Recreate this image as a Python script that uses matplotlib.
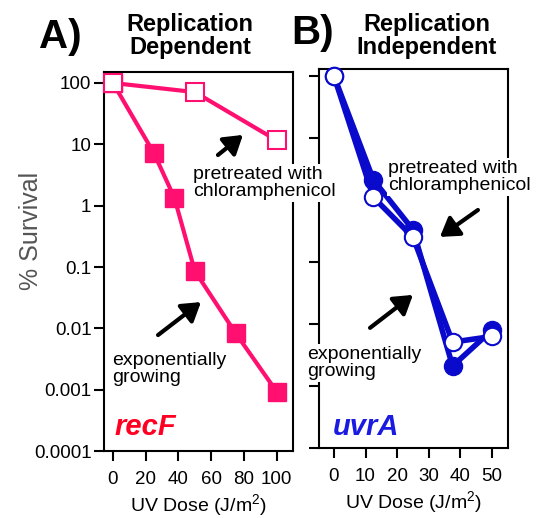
"""
UV survival of recF and uvrA mutants, replication dependent vs independent repair
"""

import matplotlib
matplotlib.use('Agg')
import matplotlib.pyplot as plt

plt.rcParams['font.family'] = ['Liberation Sans', 'DejaVu Sans']
plt.rcParams['mathtext.fontset'] = 'custom'
plt.rcParams['mathtext.rm'] = 'Liberation Sans'

# recF (panel A)
recf_dose_exp = [0, 25, 37.5, 50, 75, 100]
recf_surv_exp = [100, 7.2, 1.35, 0.086, 0.0083, 0.00093]
recf_dose_cam = [0, 50, 100]
recf_surv_cam = [100, 71, 11.6]

# uvrA (panel B)
uvra_dose = [0, 12.5, 25, 37.5, 50]
uvra_surv_exp = [100, 2.1, 0.33, 0.0021, 0.0080]
uvra_surv_cam = [100, 1.1, 0.25, 0.0051, 0.0063]

yticks = [100, 10, 1, 0.1, 0.01, 0.001, 0.0001]
ylabels = ['100', '10', '1', '0.1', '0.01', '0.001', '0.0001']
xticks_a = [0, 20, 40, 60, 80, 100]
xticks_b = [0, 10, 20, 30, 40, 50]

pink = '#ff1070'
blue = '#0a0acc'

fig = plt.figure(figsize=(5.43, 5.18), dpi=100)
axA = fig.add_axes([0.1915, 0.1293, 0.3481, 0.7317], zorder=2)
axB = fig.add_axes([0.5875, 0.1351, 0.3480, 0.7317], zorder=1)


def style_axes(ax):
    ax.set_yscale('log')
    ax.minorticks_off()
    ax.set_yticks(yticks)
    for s in ax.spines.values():
        s.set_linewidth(1.5)
    ax.tick_params(direction='out', length=7.5, width=1.5, labelsize=13.5)
    ax.tick_params(axis='y', pad=1.5)
    ax.tick_params(axis='x', pad=7)
    ax.set_xlabel('UV Dose (J/m$^{\\mathregular{2}}$)', fontsize=14, labelpad=3)


# Panel A
style_axes(axA)
axA.plot(recf_dose_exp, recf_surv_exp, color=pink, lw=3, marker='s', ms=13.5,
         clip_on=False, zorder=3)
axA.plot(recf_dose_cam, recf_surv_cam, color=pink, lw=3, marker='s', ms=13,
         mfc='white', mec=pink, mew=1.5, clip_on=False, zorder=4)
axA.set_xlim(-5.5, 110)
axA.set_ylim(0.0001, 151)
axA.set_xticks(xticks_a)
axA.set_yticklabels(ylabels)
axA.set_ylabel('% Survival', fontsize=18, color='#555555')
axA.yaxis.set_label_coords(-0.323, 0.58)

txt_box = dict(fc='white', ec='none', pad=1)
arrow = dict(arrowstyle='-|>,head_length=0.55,head_width=0.35', lw=3,
             color='black', mutation_scale=20, shrinkA=0, shrinkB=0)

axA.text(0.471, 0.707, 'pretreated with\nchloramphenicol', transform=axA.transAxes,
         fontsize=14, ha='left', va='center', linespacing=1.05, bbox=txt_box,
         zorder=10, clip_on=False)
axA.annotate('', xy=(0.735, 0.834), xytext=(0.603, 0.781),
             xycoords='axes fraction', arrowprops=arrow)
axA.text(0.042, 0.216, 'exponentially\ngrowing', transform=axA.transAxes,
         fontsize=14, ha='left', va='center', linespacing=1.05)
axA.annotate('', xy=(0.513, 0.393), xytext=(0.286, 0.306),
             xycoords='axes fraction', arrowprops=arrow)
axA.text(0.058, 0.063, 'recF', transform=axA.transAxes, fontsize=21,
         fontweight='bold', fontstyle='italic', color='#ff0022',
         ha='left', va='center')

# Panel B
style_axes(axB)
axB.plot(uvra_dose, uvra_surv_exp, color=blue, lw=4, marker='o', ms=13,
         clip_on=False, zorder=3)
axB.plot(uvra_dose, uvra_surv_cam, color=blue, lw=4, marker='o', ms=12.5,
         mfc='white', mec=blue, mew=1.5, clip_on=False, zorder=4)
axB.set_xlim(-4.7, 55)
axB.set_ylim(0.0001, 129)
axB.set_xticks(xticks_b)
axB.set_yticklabels([])

axB.text(0.365, 0.715, 'pretreated with\nchloramphenicol', transform=axB.transAxes,
         fontsize=14, ha='left', va='center', linespacing=1.05, bbox=txt_box,
         zorder=10)
axB.annotate('', xy=(0.640, 0.557), xytext=(0.841, 0.628),
             xycoords='axes fraction', arrowprops=arrow)
axB.text(-0.063, 0.224, 'exponentially\ngrowing', transform=axB.transAxes,
         fontsize=14, ha='left', va='center', linespacing=1.05, bbox=txt_box,
         zorder=10, clip_on=False)
axB.annotate('', xy=(0.497, 0.404), xytext=(0.270, 0.317),
             xycoords='axes fraction', arrowprops=arrow)
axB.text(0.074, 0.055, 'uvrA', transform=axB.transAxes, fontsize=21,
         fontweight='bold', fontstyle='italic', color='#1a1ae0',
         ha='left', va='center')

# Headers
fig.text(60 / 543, 1 - 37 / 518, 'A)', fontsize=29, fontweight='bold',
         ha='center', va='center')
fig.text(190 / 543, 1 - 36 / 518, 'Replication\nDependent', fontsize=17,
         fontweight='bold', ha='center', va='center', linespacing=1.0)
fig.text(313 / 543, 1 - 33 / 518, 'B)', fontsize=29, fontweight='bold',
         ha='center', va='center')
fig.text(427 / 543, 1 - 36 / 518, 'Replication\nIndependent', fontsize=17,
         fontweight='bold', ha='center', va='center', linespacing=1.0)

fig.savefig('out.png', dpi=100)
